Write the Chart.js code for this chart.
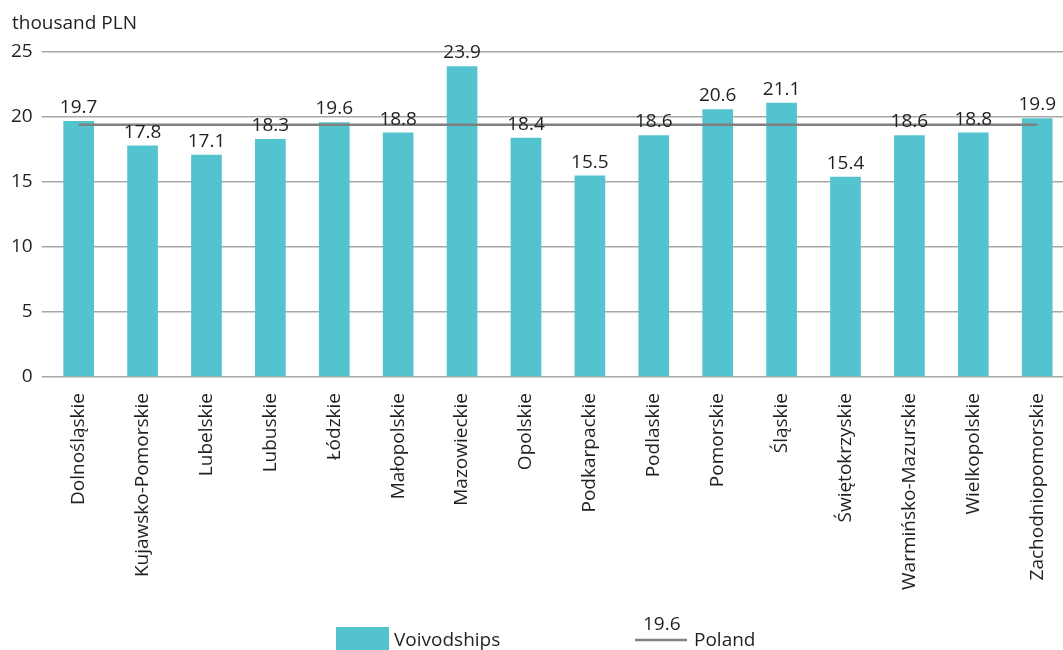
<!DOCTYPE html>
<html>
<head>
<meta charset="utf-8">
<script src="https://cdn.jsdelivr.net/npm/chart.js@4.4.1/dist/chart.umd.min.js"></script>
<style>
  html, body { margin: 0; padding: 0; background: #fff; overflow: hidden; }
  #wrap { position: relative; width: 1076px; height: 650px; }
</style>
</head>
<body>
<div id="wrap"><canvas id="chart"></canvas></div>
<script>
// voivodships and their values (thousand PLN)
const regions = ['Dolnośląskie', 'Kujawsko-Pomorskie', 'Lubelskie', 'Lubuskie', 'Łódzkie', 'Małopolskie',
  'Mazowieckie', 'Opolskie', 'Podkarpackie', 'Podlaskie', 'Pomorskie', 'Śląskie', 'Świętokrzyskie',
  'Warmińsko-Mazurskie', 'Wielkopolskie', 'Zachodniopomorskie'];
const regionValues = [19.7, 17.8, 17.1, 18.3, 19.6, 18.8, 23.9, 18.4, 15.5, 18.6, 20.6, 21.1, 15.4, 18.6, 18.8, 19.9];

// Poland level: legend reads 19.6, line drawn at about 19.4 in the picture
const polandLabel = '19.6';
const polandLevel = 19.4;

const yTicks = [0, 5, 10, 15, 20, 25];

const FONT = '"Open Sans", "Noto Sans", sans-serif';
const TEXT = '#231f20';
const TEAL = '#53c4cf';
const LINE = '#808080';
const GRID = '#a7a7a7';

// value labels above bars, unit title, custom legend
const extras = {
  id: 'extras',
  afterDatasetsDraw(chart) {
    const ctx = chart.ctx;
    const meta = chart.getDatasetMeta(1);
    ctx.save();
    ctx.font = '19px ' + FONT;
    ctx.fillStyle = TEXT;
    ctx.textAlign = 'center';
    ctx.textBaseline = 'alphabetic';
    meta.data.forEach((bar, i) => {
      ctx.fillText(regionValues[i].toFixed(1), bar.x, bar.y - 8);
    });

    // unit title
    ctx.textAlign = 'left';
    ctx.fillText('thousand PLN', 12, 29);

    // legend
    ctx.fillStyle = TEAL;
    ctx.fillRect(336, 627, 53, 23);
    ctx.fillStyle = TEXT;
    ctx.fillText('Voivodships', 394, 646);
    ctx.strokeStyle = LINE;
    ctx.lineWidth = 2.5;
    ctx.beginPath();
    ctx.moveTo(635, 640);
    ctx.lineTo(687, 640);
    ctx.stroke();
    ctx.fillText(polandLabel, 643, 630);
    ctx.fillText('Poland', 694, 646);
    ctx.restore();
  }
};

new Chart(document.getElementById('chart'), {
  data: {
    labels: regions,
    datasets: [
      {
        type: 'line',
        label: 'Poland',
        data: regions.map(() => polandLevel),
        borderColor: LINE,
        borderWidth: 2.5,
        pointRadius: 0,
        order: 0
      },
      {
        type: 'bar',
        label: 'Voivodships',
        data: regionValues,
        backgroundColor: TEAL,
        barPercentage: 0.96,
        categoryPercentage: 0.5,
        order: 1
      }
    ]
  },
  options: {
    responsive: true,
    maintainAspectRatio: false,
    animation: false,
    layout: { padding: { top: 52, left: 0, right: 0, bottom: 0 } },
    plugins: {
      legend: { display: false },
      tooltip: { enabled: false }
    },
    scales: {
      x: {
        offset: true,
        grid: { display: false, drawTicks: false },
        border: { display: false },
        ticks: {
          color: TEXT,
          font: { family: FONT, size: 19 },
          minRotation: 90,
          maxRotation: 90,
          padding: 16,
          autoSkip: false
        },
        afterFit: s => { s.height = 273; }
      },
      y: {
        min: 0,
        max: 25,
        afterBuildTicks: s => { s.ticks = yTicks.map(v => ({ value: v })); },
        grid: { color: GRID, lineWidth: 1.5, tickLength: 5, tickColor: GRID },
        border: { display: false },
        ticks: {
          color: TEXT,
          font: { family: FONT, size: 19 },
          padding: 9
        },
        afterFit: s => { s.width = 46.7; }
      }
    }
  },
  plugins: [extras]
});
</script>
</body>
</html>
